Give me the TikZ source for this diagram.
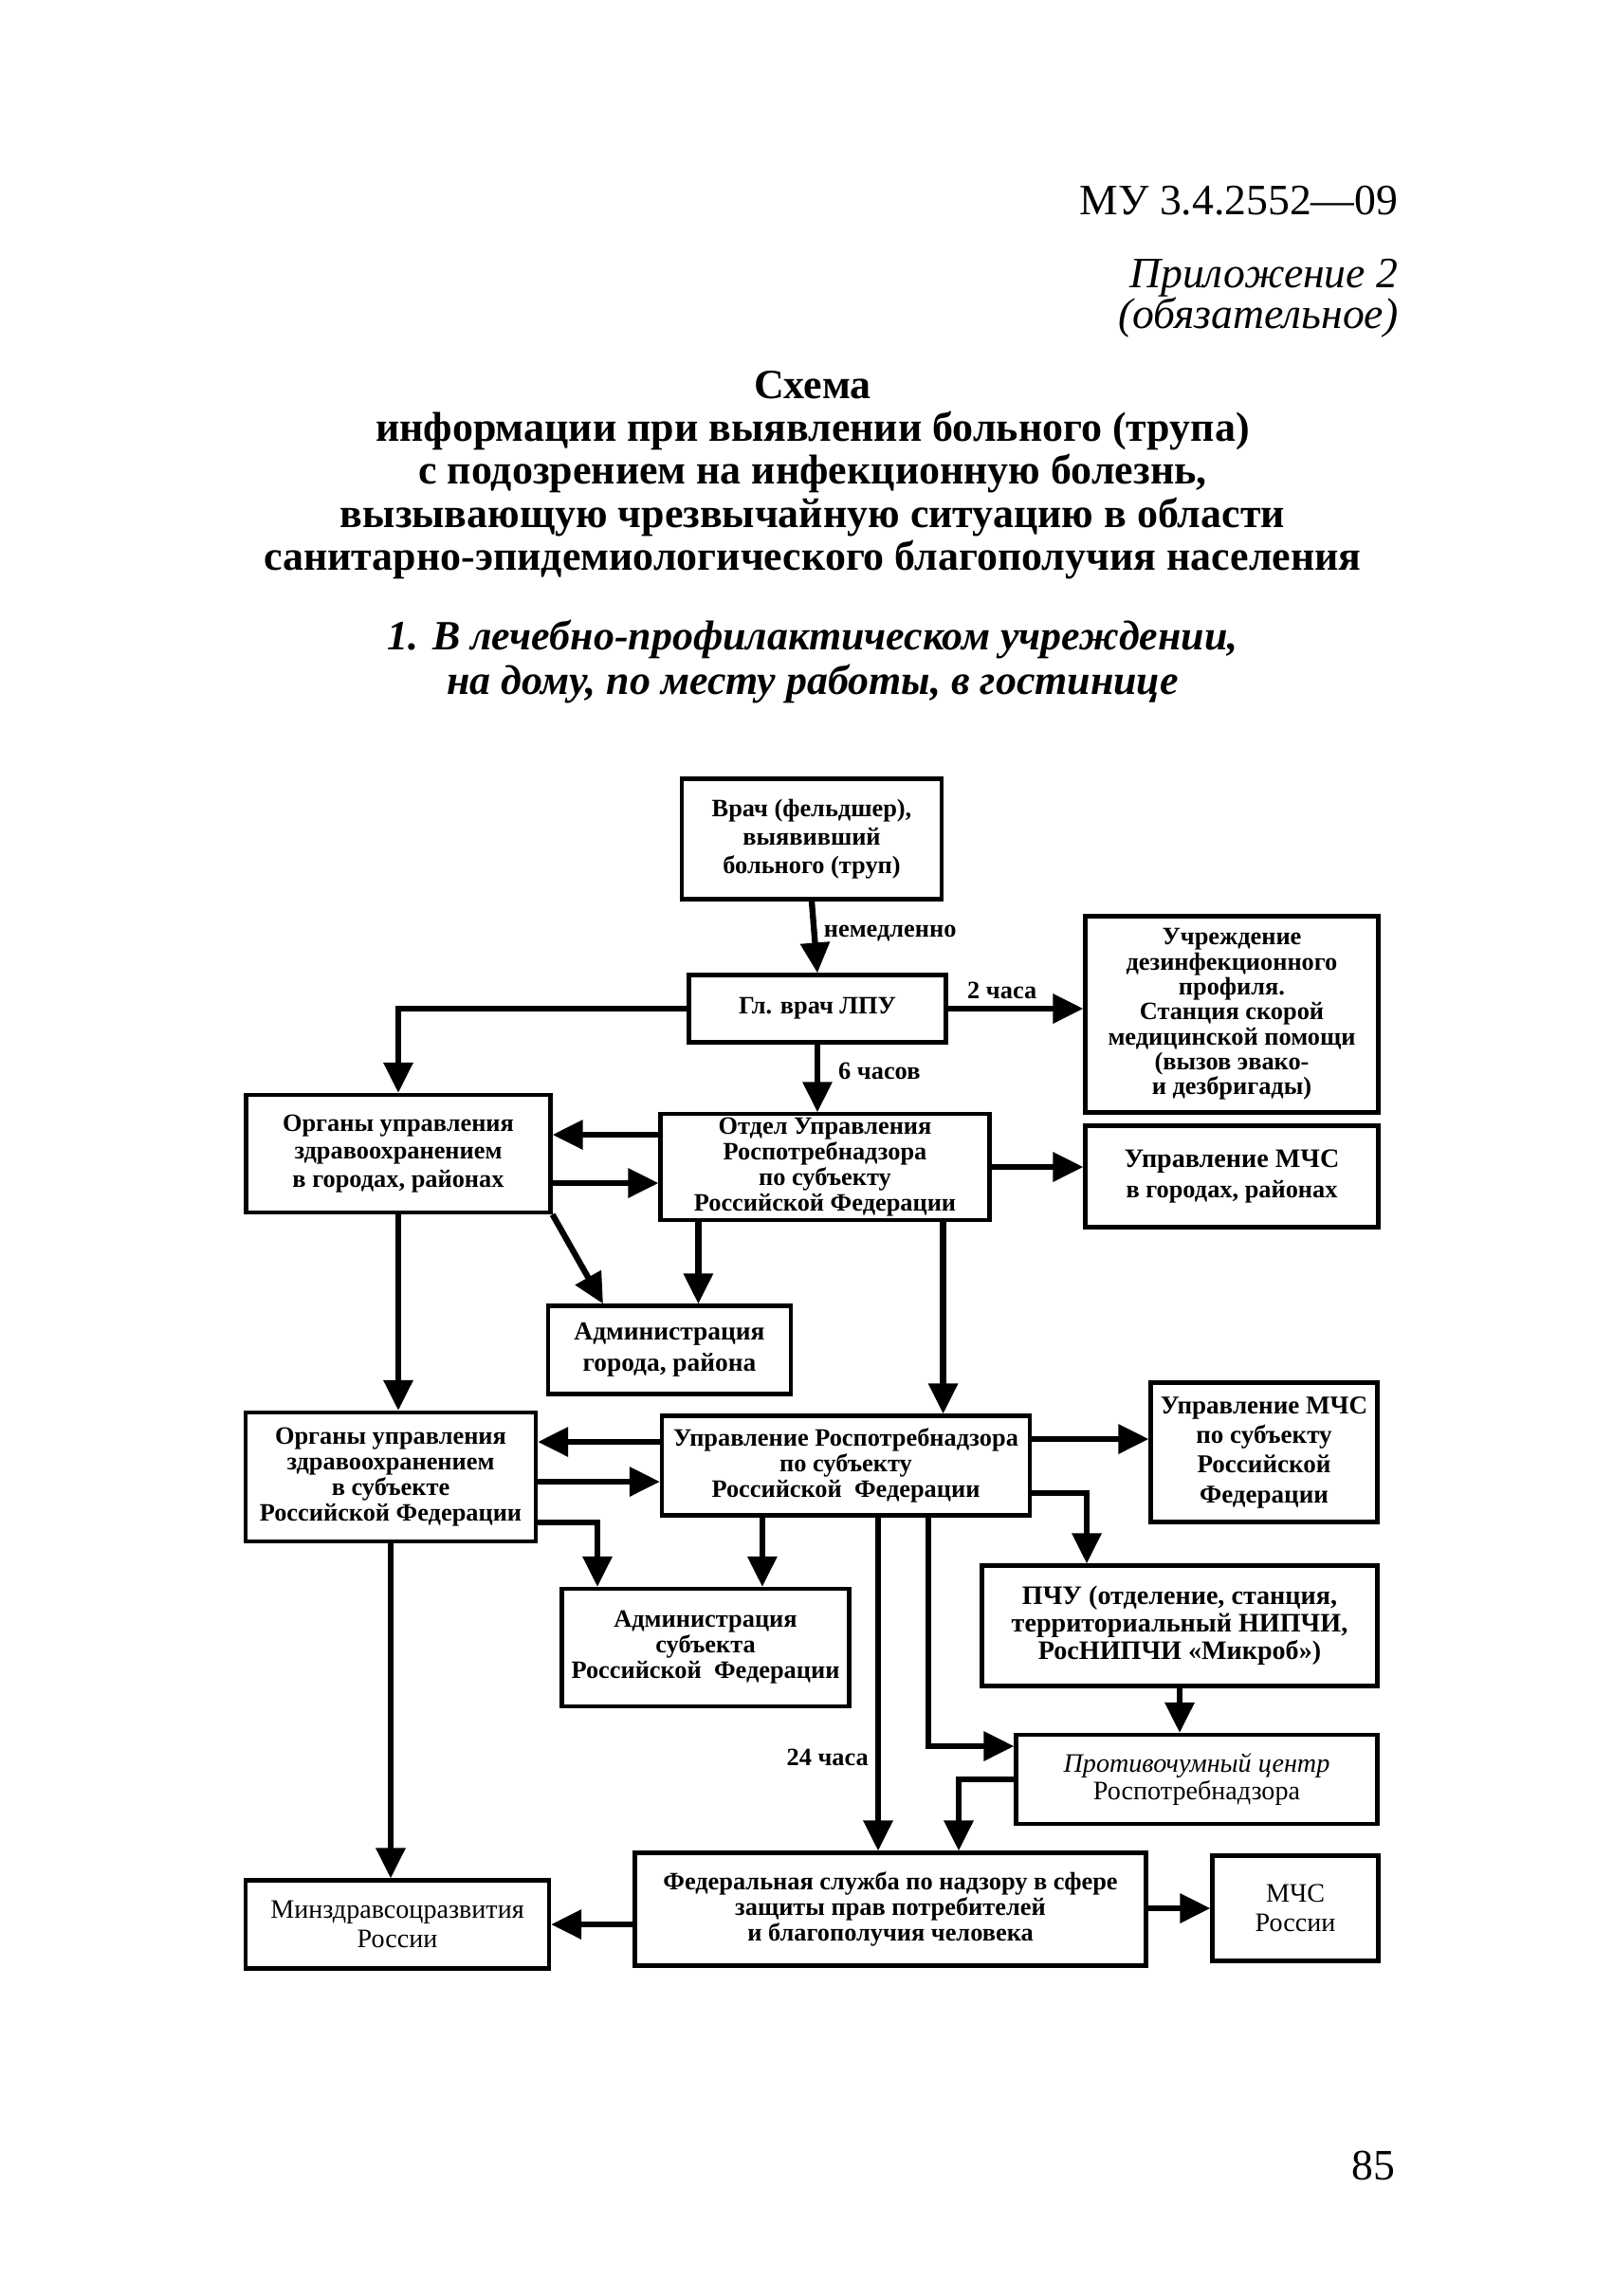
\documentclass[tikz,border=0pt]{standalone}
\usepackage{fontspec}
\setmainfont{Liberation Serif}
\usetikzlibrary{arrows.meta,positioning,calc}
\tikzset{
  sch/box/.style={
    draw=black,
    line width=1.2pt,
    fill=white,
    align=center,
    text=black,
    inner sep=1pt,
    font=\fontsize{7.5}{7.7}\selectfont\bfseries
  },
  sch/plainbox/.style={
    sch/box,
    font=\fontsize{8}{8.8}\selectfont
  },
  sch/arrow/.style={-{Triangle[length=3.2mm,width=3mm]}, line width=1.8pt, draw=black},
  sch/line/.style={line width=1.8pt, draw=black},
  sch/label/.style={font=\fontsize{7.5}{8}\selectfont\bfseries, inner sep=2pt},
  sch/head/.style={font=\fontsize{13}{12}\selectfont, align=right, inner sep=0pt},
  sch/title/.style={font=\fontsize{12.5}{12.9}\selectfont\bfseries, align=center, inner sep=0pt},
  sch/subtitle/.style={font=\fontsize{12.5}{13.2}\selectfont\bfseries\itshape, align=center, inner sep=0pt}
}
\begin{document}
\begin{tikzpicture}[x=1cm,y=1cm]
  \fill[white] (0,0) rectangle (17,-24.22);
  \useasboundingbox (0,0) rectangle (17,-24.22);
  % header
  \node[sch/head,anchor=east] (doc) at (14.75,-2.12) {МУ 3.4.2552—09};
  \node[sch/head,anchor=east,font=\fontsize{13}{12.3}\selectfont\itshape] (appx) at (14.75,-3.15) {Приложение 2\\(обязательное)};
  \node[sch/title] (title) at (8.57,-5.01) {Схема\\информации при выявлении больного (трупа)\\с подозрением на инфекционную болезнь,\\вызывающую чрезвычайную ситуацию в области\\санитарно-эпидемиологического благополучия населения};
  \node[sch/subtitle] (sub) at (8.57,-6.98) {1. В лечебно-профилактическом учреждении,\\на дому, по месту работы, в гостинице};
  \node[sch/head,anchor=east] (page) at (14.72,-22.85) {85};

  % boxes
  \node[sch/box,minimum width=2.74cm,minimum height=1.27cm,font=\fontsize{7.5}{8.6}\selectfont\bfseries] (vrach) at (8.56,-8.85) {Врач (фельдшер),\\выявивший\\больного (труп)};
  \node[sch/box,minimum width=2.71cm,minimum height=0.71cm] (glav) at (8.62,-10.64) {Гл. врач ЛПУ};
  \node[sch/box,minimum width=3.09cm,minimum height=2.07cm,font=\fontsize{7.5}{7.5}\selectfont\bfseries] (uchr) at (12.99,-10.70) {Учреждение\\дезинфекционного\\профиля.\\Станция скорой\\медицинской помощи\\(вызов эвако-\\и дезбригады)};
  \node[sch/box,minimum width=3.21cm,minimum height=1.24cm,font=\fontsize{7.5}{8.4}\selectfont\bfseries] (orgcity) at (4.20,-12.17) {Органы управления\\здравоохранением\\в городах, районах};
  \node[sch/box,minimum width=3.47cm,minimum height=1.08cm] (otdel) at (8.70,-12.31) {Отдел Управления\\Роспотребнадзора\\по субъекту\\Российской Федерации};
  \node[sch/box,minimum width=3.09cm,minimum height=1.07cm,font=\fontsize{7.5}{9}\selectfont\bfseries] (mchscity) at (12.99,-12.41) {{\fontsize{8}{9}\selectfont Управление МЧС}\\в городах, районах};
  \node[sch/box,minimum width=2.56cm,minimum height=0.93cm,font=\fontsize{7.8}{9.2}\selectfont\bfseries] (admcity) at (7.06,-14.24) {Администрация\\города, района};
  \node[sch/box,minimum width=3.06cm,minimum height=1.36cm] (orgsubj) at (4.12,-15.58) {Органы управления\\здравоохранением\\в субъекте\\Российской Федерации};
  \node[sch/box,minimum width=3.88cm,minimum height=1.05cm] (uprav) at (8.92,-15.46) {Управление Роспотребнадзора\\по субъекту\\Российской~ Федерации};
  \node[sch/box,minimum width=2.39cm,minimum height=1.47cm,font=\fontsize{7.7}{8.9}\selectfont\bfseries] (mchssubj) at (13.33,-15.32) {Управление МЧС\\по субъекту\\Российской\\Федерации};
  \node[sch/box,minimum width=3.03cm,minimum height=1.24cm] (admsubj) at (7.44,-17.38) {Администрация\\субъекта\\Российской~ Федерации};
  \node[sch/box,minimum width=4.17cm,minimum height=1.27cm,font=\fontsize{8}{8.3}\selectfont\bfseries] (pchu) at (12.44,-17.15) {ПЧУ (отделение, станция,\\территориальный НИПЧИ,\\РосНИПЧИ «Микроб»)};
  \node[sch/plainbox,minimum width=3.81cm,minimum height=0.94cm,font=\fontsize{8}{8}\selectfont] (protiv) at (12.62,-18.77) {\textit{Противочумный центр}\\Роспотребнадзора};
  \node[sch/box,minimum width=5.39cm,minimum height=1.19cm] (fed) at (9.39,-20.14) {Федеральная служба по надзору в сфере\\защиты прав потребителей\\и благополучия человека};
  \node[sch/plainbox,minimum width=3.20cm,minimum height=0.93cm] (minzdrav) at (4.19,-20.30) {Минздравсоцразвития\\России};
  \node[sch/plainbox,minimum width=1.75cm,minimum height=1.11cm] (mchsros) at (13.66,-20.13) {МЧС\\России};

  % connectors
  \draw[sch/arrow] (vrach.south) -- node[sch/label,right,pos=0.45] {немедленно} (glav.north);
  \draw[sch/arrow] (glav.east) -- node[sch/label,above,pos=0.4] {2 часа} (glav.east -| uchr.west);
  \draw[sch/arrow] (glav.west) -| (orgcity.north);
  \draw[sch/arrow] (glav.south) -- node[sch/label,right,pos=0.4,xshift=1.2mm] {6 часов} (glav.south |- otdel.north);
  \draw[sch/arrow] ([yshift=3.4mm]otdel.west) -- ([yshift=3.4mm]otdel.west -| orgcity.east);
  \draw[sch/arrow] ([yshift=-3.1mm]orgcity.east) -- ([yshift=-3.1mm]orgcity.east -| otdel.west);
  \draw[sch/arrow] (otdel.east) -- (otdel.east -| mchscity.west);
  \draw[sch/arrow] (orgcity.south east) -- ([xshift=-7mm]admcity.north);
  \draw[sch/arrow] ([xshift=4.2mm]otdel.south west) -- ([xshift=4.2mm]otdel.south west |- admcity.north);
  \draw[sch/arrow] (orgcity.south) -- (orgcity.south |- orgsubj.north);
  \draw[sch/arrow] ([xshift=-5.1mm]otdel.south east) -- ([xshift=-5.1mm]otdel.south east |- uprav.north);
  \draw[sch/arrow] ([yshift=2.5mm]uprav.west) -- ([yshift=2.5mm]uprav.west -| orgsubj.east);
  \draw[sch/arrow] ([yshift=-0.5mm]orgsubj.east) -- ([yshift=-0.5mm]orgsubj.east -| uprav.west);
  \draw[sch/arrow] ([yshift=2.8mm]uprav.east) -- ([yshift=2.8mm]uprav.east -| mchssubj.west);
  \draw[sch/arrow] ([yshift=-2.9mm]uprav.east) -| ([xshift=-9.8mm]pchu.north);
  \draw[sch/arrow] ([yshift=-4.8mm]orgsubj.east) -| ([xshift=-11.4mm]admsubj.north);
  \draw[sch/arrow] ([xshift=10.8mm]uprav.south west) -- ([xshift=10.8mm]uprav.south west |- admsubj.north);
  \draw[sch/arrow] (orgsubj.south) -- (orgsubj.south |- minzdrav.north);
  \draw[sch/arrow] ([xshift=3.4mm]uprav.south) -- node[sch/label,left,pos=0.72] {24 часа} ([xshift=3.4mm]uprav.south |- fed.north);
  \draw[sch/arrow] ([xshift=8.7mm]uprav.south) |- ([yshift=3.5mm]protiv.west);
  \draw[sch/arrow] (pchu.south) -- (pchu.south |- protiv.north);
  \draw[sch/arrow] (protiv.west) -| ([xshift=7.2mm]fed.north);
  \draw[sch/arrow] (minzdrav.east -| fed.west) -- (minzdrav.east);
  \draw[sch/arrow] (mchsros.west -| fed.east) -- (mchsros.west);
\end{tikzpicture}
\end{document}
